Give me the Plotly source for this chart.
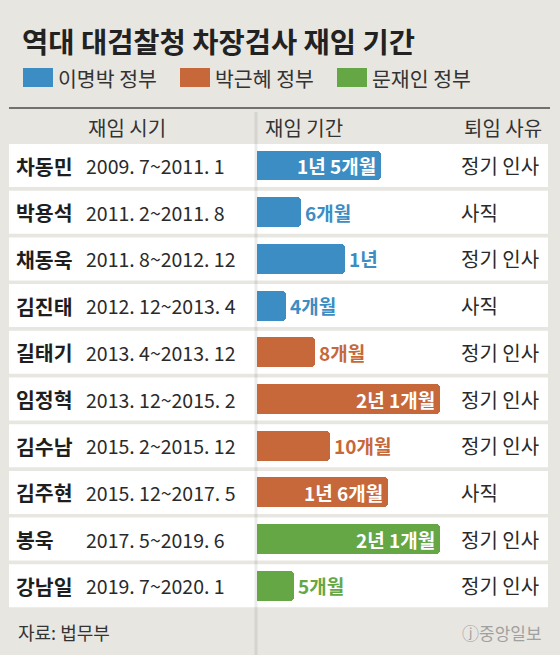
import plotly.graph_objects as go

# data
names = ["차동민", "박용석", "채동욱", "김진태", "길태기", "임정혁", "김수남", "김주현", "봉욱", "강남일"]
periods = ["2009. 7~2011. 1", "2011. 2~2011. 8", "2011. 8~2012. 12", "2012. 12~2013. 4",
           "2013. 4~2013. 12", "2013. 12~2015. 2", "2015. 2~2015. 12", "2015. 12~2017. 5",
           "2017. 5~2019. 6", "2019. 7~2020. 1"]
months = [17, 6, 12, 4, 8, 25, 10, 18, 25, 5]
labels = ["1년 5개월", "6개월", "1년", "4개월", "8개월", "2년 1개월", "10개월", "1년 6개월", "2년 1개월", "5개월"]
govs = ["이명박 정부"] * 4 + ["박근혜 정부"] * 4 + ["문재인 정부"] * 2
reasons = ["정기 인사", "사직", "정기 인사", "사직", "정기 인사", "정기 인사", "정기 인사", "사직", "정기 인사", "정기 인사"]

gov_order = ["이명박 정부", "박근혜 정부", "문재인 정부"]
gov_colors = {"이명박 정부": "#3c8dc3", "박근혜 정부": "#c6683a", "문재인 정부": "#65a745"}

W, H = 560, 655
BG = "#e8e6e1"
FONT = "Noto Sans CJK KR"
ROW0, PITCH = 165.5, 46.7      # pixel centre of first row, row pitch
X0, PXM = 257, 7.3             # bar start pixel, pixels per month

rows = list(range(len(names)))
colors = [gov_colors[g] for g in govs]
inside = [m >= 15 for m in months]

def px(x):
    return x / W

def py(y):
    return 1 - y / H

fig = go.Figure()

fig.add_trace(go.Bar(
    x=months, y=rows, orientation="h", width=0.64,
    marker=dict(color=colors, cornerradius=4, line_width=0),
    hoverinfo="skip",
))

shapes = []
# white row bands
for r in rows:
    shapes.append(dict(type="rect", xref="paper", yref="y", x0=px(9), x1=px(548),
                       y0=r - 0.46, y1=r + 0.46, fillcolor="white", line_width=0, layer="below"))
# column divider
shapes.append(dict(type="line", xref="paper", yref="paper", x0=px(256), x1=px(256),
                   y0=py(112), y1=0, line=dict(color="rgba(0,0,0,0.08)", width=3), layer="below"))
# header rule
shapes.append(dict(type="line", xref="paper", yref="paper", x0=px(9), x1=px(550),
                   y0=py(108), y1=py(108), line=dict(color="#4a4a4a", width=1.5)))

ann = []
def txt(x, y, s, size=18, color="#2a2a2a", anchor="left", weight="normal", yref="paper"):
    ann.append(dict(x=px(x), y=py(y) if yref == "paper" else y, xref="paper", yref=yref,
                    text=s, showarrow=False, xanchor=anchor, yanchor="middle",
                    font=dict(family=FONT, size=size, color=color, weight=weight)))

# title
txt(20, 41, "역대 대검찰청 차장검사 재임 기간", size=28.5, color="#222222", weight="bold")

# legend
legend_x = [23, 180, 337]
for g, lx in zip(gov_order, legend_x):
    shapes.append(dict(type="rect", xref="paper", yref="paper", x0=px(lx), x1=px(lx + 30),
                       y0=py(87), y1=py(68), fillcolor=gov_colors[g], line_width=0))
    txt(lx + 33, 77.5, g, size=20.5, color="#333333")

# column headers
txt(127, 128, "재임 시기", size=20, anchor="center", color="#333333")
txt(263, 128, "재임 기간", size=20, color="#333333")
txt(544, 128, "퇴임 사유", size=20, anchor="right", color="#333333")

# table text
for r in rows:
    txt(14, r, names[r], size=20.5, color="#1e1e1e", weight="bold", yref="y")
    txt(84, r, periods[r], size=19.5, color="#2a2a2a", yref="y")
    txt(459, r, reasons[r], size=20, color="#2a2a2a", yref="y")
    # bar value label: inside (white) for long bars, outside (coloured) otherwise
    ann.append(dict(x=months[r], y=r, xref="x", yref="y", text=labels[r], showarrow=False,
                    xanchor="right" if inside[r] else "left", yanchor="middle",
                    xshift=-3 if inside[r] else 2,
                    font=dict(family=FONT, size=19, weight="bold",
                              color="white" if inside[r] else colors[r])))

# footer
txt(16, 632, "자료: 법무부", size=18, color="#333333")
txt(544, 632, "ⓙ중앙일보", size=17, color="#a0a0a0", anchor="right")

fig.update_layout(
    width=W, height=H, margin=dict(l=0, r=0, t=0, b=0),
    paper_bgcolor=BG, plot_bgcolor="rgba(0,0,0,0)",
    showlegend=False, shapes=shapes, annotations=ann, bargap=0,
    xaxis=dict(domain=[px(X0), 1], range=[0, (W - X0) / PXM], visible=False, fixedrange=True),
    yaxis=dict(domain=[0, 1], range=[(H - ROW0) / PITCH, -ROW0 / PITCH], visible=False, fixedrange=True),
)

fig.write_html("out.html", config={"displayModeBar": False},
               post_script="document.body.style.margin='0';")
